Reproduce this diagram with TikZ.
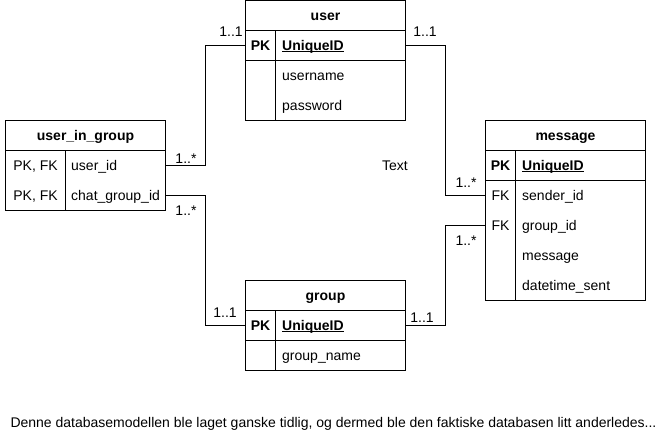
\documentclass[tikz,border=0pt]{standalone}
\usepackage{fontspec}
\setmainfont{Liberation Sans}

% underlined primary key name
\newsavebox\pkbox
\newcommand\pkfield[1]{\sbox\pkbox{\bfseries #1}%
  \rlap{\rule[-1.8pt]{\wd\pkbox}{0.9pt}}\usebox\pkbox}

\begin{document}
\begin{tikzpicture}[
    x=1pt,
    y=-1pt,
    font=\fontsize{14}{16}\selectfont,
    tab/.style={draw, line width=1pt, minimum width=160pt, inner sep=0pt,
      outer sep=0pt, anchor=north west},
    txt/.style={inner sep=0pt, text height=10pt, text depth=0pt},
    head/.style={txt, font=\fontsize{14}{16}\selectfont\bfseries},
    key/.style={txt},
    fld/.style={txt, anchor=west},
    card/.style={txt},
    rel/.style={line width=1pt}
  ]
  \useasboundingbox (0,0) rectangle (671,441);

  % user
  \node[tab, minimum height=120pt] (user) at (245.5,0.5) {};
  \draw[rel] ([yshift=-30pt]user.north west) -- ([yshift=-30pt]user.north east);
  \draw[rel] ([yshift=-60pt]user.north west) -- ([yshift=-60pt]user.north east);
  \draw[rel] ([xshift=30pt,yshift=-30pt]user.north west) -- ([xshift=30pt]user.south west);
  \node[head] (user-h) at (325.5,15.5) {user};
  \node[key] (user-k) at (260.5,45.5) {\bfseries PK};
  \node[fld] (user-pk) at (282,45.5) {\pkfield{UniqueID}};
  \node[fld] (user-un) at (282,75.5) {username};
  \node[fld] (user-pw) at (282,105.5) {password};

  % user_in_group
  \node[tab, minimum height=90pt] (uig) at (5.5,120.5) {};
  \draw[rel] ([yshift=-30pt]uig.north west) -- ([yshift=-30pt]uig.north east);
  \draw[rel] ([xshift=60pt,yshift=-30pt]uig.north west) -- ([xshift=60pt]uig.south west);
  \node[head] (uig-h) at (85.5,135.5) {user\_in\_group};
  \node[key] (uig-k1) at (35.5,165.5) {PK, FK};
  \node[fld] (uig-uid) at (71,165.5) {user\_id};
  \node[key] (uig-k2) at (35.5,195.5) {PK, FK};
  \node[fld] (uig-gid) at (71,195.5) {chat\_group\_id};

  % message
  \node[tab, minimum height=180pt] (msg) at (485.5,120.5) {};
  \draw[rel] ([yshift=-30pt]msg.north west) -- ([yshift=-30pt]msg.north east);
  \draw[rel] ([yshift=-60pt]msg.north west) -- ([yshift=-60pt]msg.north east);
  \draw[rel] ([xshift=30pt,yshift=-30pt]msg.north west) -- ([xshift=30pt]msg.south west);
  \node[head] (msg-h) at (565.5,135.5) {message};
  \node[key] (msg-k) at (500.5,165.5) {\bfseries PK};
  \node[fld] (msg-pk) at (522,165.5) {\pkfield{UniqueID}};
  \node[key] (msg-k1) at (500.5,195.5) {FK};
  \node[fld] (msg-sid) at (522,195.5) {sender\_id};
  \node[key] (msg-k2) at (500.5,225.5) {FK};
  \node[fld] (msg-gid) at (522,225.5) {group\_id};
  \node[fld] (msg-txt) at (522,255.5) {message};
  \node[fld] (msg-dt) at (522,285.5) {datetime\_sent};

  % group
  \node[tab, minimum height=90pt] (grp) at (245.5,280.5) {};
  \draw[rel] ([yshift=-30pt]grp.north west) -- ([yshift=-30pt]grp.north east);
  \draw[rel] ([yshift=-60pt]grp.north west) -- ([yshift=-60pt]grp.north east);
  \draw[rel] ([xshift=30pt,yshift=-30pt]grp.north west) -- ([xshift=30pt]grp.south west);
  \node[head] (grp-h) at (325.5,295.5) {group};
  \node[key] (grp-k) at (260.5,325.5) {\bfseries PK};
  \node[fld] (grp-pk) at (282,325.5) {\pkfield{UniqueID}};
  \node[fld] (grp-nm) at (282,355.5) {group\_name};

  % relations
  \draw[rel] (uig.east |- uig-uid) -- ++(40,0) |- (user.west |- user-pk);
  \draw[rel] (uig.east |- uig-gid) -- ++(40,0) |- (grp.west |- grp-pk);
  \draw[rel] (user.east |- user-pk) -- ++(40,0) |- (msg.west |- msg-sid);
  \draw[rel] (grp.east |- grp-pk) -- ++(40,0) |- (msg.west |- msg-gid);

  % cardinalities
  \node[card] (c-user-l) at (231,32) {1..1};
  \node[card] (c-user-r) at (425,32) {1..1};
  \node[card] (c-uig-1) at (186,158) {1..*};
  \node[card] (c-uig-2) at (186,210) {1..*};
  \node[card] (c-msg-1) at (466,182) {1..*};
  \node[card] (c-msg-2) at (466,240) {1..*};
  \node[card] (c-grp-l) at (225,312) {1..1};
  \node[card] (c-grp-r) at (422,317) {1..1};

  \node[txt] (free) at (395,165) {Text};
  \node[txt] (note) at (333.5,422)
    {Denne databasemodellen ble laget ganske tidlig, og dermed ble den faktiske databasen litt anderledes...};
\end{tikzpicture}
\end{document}
